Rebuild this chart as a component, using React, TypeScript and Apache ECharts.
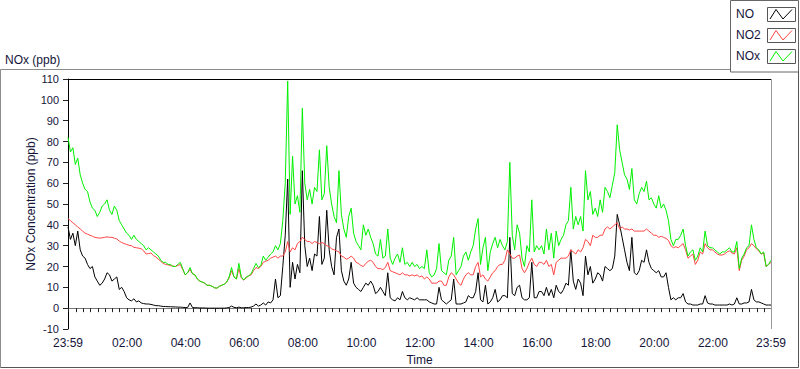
import React, { useEffect, useRef } from "react";
import * as echarts from "echarts";

// Samples every 5 minutes, starting at 23:59 (minute 0) and ending at 23:59 (minute 1440)
const stepMinutes = 5;

const noxValues = [
  82, 75, 77, 69, 72, 64, 60, 57, 56, 51, 48, 47, 44, 46, 49, 50, 52, 47, 45, 49, 47, 42, 40, 38, 36,
  35, 33, 35, 33, 32, 31, 30, 28, 29, 28, 27, 26, 25, 23, 22, 22, 21, 21, 20, 20, 21, 22, 19, 16,
  17, 19.5, 16.5, 16, 14, 13, 12.5, 12, 11, 11, 10.5, 9.8, 9.6, 10.5, 11, 11.5, 12.5, 15, 19.5, 15,
  14, 21.5, 15, 13.5, 15, 15.5, 16.5, 19, 21.5, 19.5, 20.5, 25, 23, 24.5, 26, 27, 30, 28, 31, 42,
  60, 109, 45, 73, 50, 54, 46, 96,
  60, 52, 57, 50, 58, 56, 76, 52, 55, 78, 58, 50, 44, 41, 66, 45, 38, 34, 44, 48, 36, 32, 30, 28, 40,
  35, 38, 34, 31, 26, 25, 33, 24, 25, 38, 24, 21, 24, 26, 22, 29, 21, 22, 20, 22, 20, 21, 19, 20,
  19, 28, 17, 15, 16, 19, 31, 18, 17, 16, 23, 25, 34, 16, 18, 20, 25, 27, 23, 27, 30, 38, 43, 21, 29,
  34, 18, 27, 31, 34, 29, 33, 30, 28, 32, 70, 35, 28, 40, 36, 24, 20, 30, 27, 52, 27, 30, 28,
  30, 26, 38, 28, 36, 24, 37, 30, 33, 35, 40, 42, 58, 38, 44, 40, 44, 37, 66, 52, 56, 45, 48, 44, 52,
  46, 58, 56, 53, 59, 65, 88, 76, 70, 64, 62, 57, 67, 52, 50, 55, 58, 56, 61, 52, 53, 50, 48,
  54, 48, 50, 47, 42, 33, 30, 33, 33, 35, 38, 30, 25, 27, 28, 23, 25, 29, 27, 37, 30, 29, 29, 28, 27,
  26, 27, 27, 28, 29, 27, 27, 32, 19, 24, 26, 29, 30, 40, 33, 29, 28, 26, 27, 20, 21, 23,
];

const no2Values = [
  43, 42, 41, 40, 39, 38, 37, 36, 35.5, 35, 34.5, 34, 33.8, 33.6, 33.8, 34, 34.2, 34, 34, 33.6, 33.2,
  32.2, 31.5, 31, 30.6, 30.2, 30, 29.2, 29, 28.8, 28.5, 27.5, 26, 26.2, 26.5, 25.2, 24.6, 23.5, 22.5,
  21.5, 21, 20.8, 20.4, 20.2, 20, 20.5, 21, 18.5, 16,
  17, 18.5, 16.5, 16, 14, 13, 12.5, 12, 11, 11, 10.5, 9.8, 9.6, 10.5, 11, 11.5, 12.5, 14.5, 18, 15,
  14, 19, 14.5, 13.5, 14.5, 15.5, 16, 18, 19.5, 19, 20, 22, 22.5, 23, 24, 24.5, 25, 24, 25, 25,
  27, 32, 27, 29, 28, 31, 32, 34,
  33, 32, 32, 31, 32, 31.5, 31, 31.5, 31, 30, 29.5, 28.5, 28, 27.5, 27, 25, 24.5, 23.5, 24, 25, 24,
  22, 21.5, 20.5, 20, 21.5, 22.5, 23, 22, 20, 19, 19, 18.5, 19.5, 22, 18, 17.5, 17, 16.5, 16, 17,
  16, 16, 15.5, 16, 15.5, 16, 15, 15.5,
  14, 15, 14, 12, 12, 12, 13, 13, 11, 11, 15, 17, 16, 14, 12, 11, 14, 16, 17, 16, 16, 20, 22, 15, 16,
  14, 13, 15, 17, 18, 20, 21, 21, 23, 28, 26, 24, 24, 25, 25.5, 19, 17, 19, 22, 24, 21, 20, 22,
  22, 21, 23, 20, 21, 16, 22, 23, 24, 24, 24, 25, 28, 27, 26, 28, 27, 29, 33, 32, 30, 35, 34, 34, 35,
  35, 38, 39, 38, 39, 40, 41, 38, 39, 38, 38, 37.5, 38, 37, 37, 37, 37, 37, 38, 37, 36, 35, 35,
  34, 34.5, 34, 33.5, 32.5, 30, 29, 29.5, 29, 30, 31, 28, 24, 25, 26, 21, 23, 27, 26, 31, 29, 28,
  28, 27, 26, 25.5, 25.5, 26, 27, 27.5, 26.5, 26, 29, 18, 23, 25, 28, 29, 31, 30, 28.5, 27.5, 26,
  26.5, 20, 21, 22,
];

const noValues = [
  39, 33, 36, 30, 37, 28, 25, 24, 21, 19, 20, 15, 13, 11, 12, 14, 17, 16, 13, 14, 15, 9, 10, 8, 5,
  4, 3.5, 4.5, 3, 3.5, 2.5, 2.2, 2, 2, 1.8, 1.5, 1.2, 1.2, 1, 0.8, 0.8, 0.7, 0.7, 0.6, 0.6, 0.5, 0.5,
  0.4, 0.3,
  0.3, 2.5, 0.3, 0.2, 0.2, 0.1, 0.1, 0.1, 0, 0, 0, 0, 0, 0, 0, 0, 0.1, 0.3, 1, 0.4, 0.2, 0.5, 0.2,
  0.2, 0.3, 0.3, 0.5, 1, 2, 1, 1.5, 2.5, 1.5, 3, 2.5, 4, 14, 5, 6, 20, 35, 62, 10, 22, 14, 21, 17, 66,
  30, 20, 24, 18, 26, 25, 44, 21, 24, 47, 28, 20, 16, 34, 38, 18, 13, 11, 14, 22, 12, 10, 9, 8, 10,
  12, 11, 13, 11, 7, 8, 10, 8, 6, 17, 5, 4, 3.5, 5, 4, 8, 5, 4, 5, 4.5, 4, 5, 4, 4,
  4, 4, 3, 2.5, 2, 2, 10, 4, 3, 2, 3, 4, 14, 2, 2, 2, 2.5, 3, 6, 5, 5, 8, 17, 4, 3, 11, 2, 3, 5, 9,
  3, 4, 6, 6, 5, 34, 7, 6, 10, 11, 5, 4, 4, 5, 22, 5, 5, 8,
  8, 6, 10, 6, 9, 5, 11, 8, 7, 9, 12, 11, 28, 13, 9, 14, 12, 6, 25, 16, 20, 12, 14, 17, 16, 13, 20,
  19, 18, 19, 25, 45, 40, 34, 28, 22, 18, 34, 17, 16, 18, 23, 22, 28, 22, 19, 18, 17,
  18, 15, 15, 17, 10, 4, 5, 4, 5, 5, 7, 3, 2, 2, 1.5, 1.5, 1.5, 2, 2, 6, 2.5, 2, 2, 1.5, 1.5, 1.5,
  1.5, 1.5, 1.5, 2, 1.5, 2, 5, 2, 2, 2.5, 2.5, 3, 9, 4, 3, 3, 2.5, 2, 1.5, 1.5, 1.5,
];

const seriesNames = ["NO", "NO2", "NOx"];
const seriesColors = ["#000000", "#ff4444", "#00f000"];

const xLabelMinutes = [0, 121, 241, 361, 481, 601, 721, 841, 961, 1081, 1201, 1321, 1440];
const xLabels = ["23:59", "02:00", "04:00", "06:00", "08:00", "10:00", "12:00", "14:00", "16:00", "18:00", "20:00", "22:00", "23:59"];

const yMin = -10;
const yMax = 110;
const yStep = 10;

const FONT = "Tahoma, 'Liberation Sans', Arial, sans-serif";
const TEXT = "#15153a";

function toPairs(vals: number[]) {
  return vals.map((v, i) => [i * stepMinutes, v]);
}

export default function App() {
  const ref = useRef<HTMLDivElement>(null);

  useEffect(() => {
    document.body.style.margin = "0";
    if (!ref.current) return;
    const chart = echarts.init(ref.current, undefined, { renderer: "svg" });

    const minorTicks: number[] = [0];
    for (let m = 16; m < 1440; m += 15) minorTicks.push(m);
    minorTicks.push(1440);

    const dataByName: Record<string, number[]> = { NO: noValues, NO2: no2Values, NOx: noxValues };

    const legendRows = seriesNames.map((name, i) => {
      const c = 14 + i * 21;
      return [
        {
          type: "text",
          style: { text: name, x: 736, y: c, fill: TEXT, font: `12px ${FONT}`, verticalAlign: "middle" },
        },
        { type: "rect", shape: { x: 767.5, y: c - 6.5, width: 28, height: 14 }, style: { fill: "#fff", stroke: "#555", lineWidth: 1 } },
        {
          type: "polyline",
          shape: { points: [[770, c + 5], [776, c - 4.5], [783, c + 5], [792, c - 4.5]] },
          style: { stroke: seriesColors[i], lineWidth: 1, fill: null },
        },
      ];
    }).flat();

    chart.setOption({
      animation: false,
      backgroundColor: "#ffffff",
      grid: { left: 68, top: 79, width: 703, height: 250, show: false, containLabel: false, outerBoundsMode: "none" },
      xAxis: {
        type: "value",
        min: 0,
        max: 1440,
        name: "Time",
        nameLocation: "middle",
        nameGap: 25,
        nameMoveOverlap: false,
        nameTextStyle: { color: TEXT, fontFamily: FONT, fontSize: 12 },
        axisLine: { show: true, lineStyle: { color: "#777", width: 1 } },
        axisTick: { show: true, length: 4, customValues: minorTicks, lineStyle: { color: "#222" } },
        axisLabel: {
          customValues: xLabelMinutes,
          formatter: (v: number) => {
            const idx = xLabelMinutes.indexOf(Math.round(v));
            return idx >= 0 ? xLabels[idx] : "";
          },
          color: TEXT,
          fontFamily: FONT,
          fontSize: 12,
          margin: 8,
          hideOverlap: false,
          showMinLabel: true,
          showMaxLabel: true,
        },
        splitLine: { show: false },
      },
      yAxis: {
        type: "value",
        min: yMin,
        max: yMax,
        interval: yStep,
        name: "NOx Concentration (ppb)",
        nameLocation: "middle",
        nameGap: 31,
        nameRotate: 90,
        nameMoveOverlap: false,
        nameTextStyle: { color: TEXT, fontFamily: FONT, fontSize: 12 },
        axisLine: { show: true, lineStyle: { color: "#000", width: 1 } },
        axisTick: { show: true, length: 5, lineStyle: { color: "#222" } },
        axisLabel: { color: TEXT, fontFamily: FONT, fontSize: 11, margin: 9 },
        splitLine: { show: false },
      },
      series: ["NOx", "NO2", "NO"].map((name) => {
        const idx = seriesNames.indexOf(name);
        return {
          name,
          type: "line",
          data: toPairs(dataByName[name]),
          showSymbol: false,
          symbol: "none",
          lineStyle: { color: seriesColors[idx], width: 1 },
          itemStyle: { color: seriesColors[idx] },
          z: 2 + idx,
        };
      }),
      graphic: [
        { type: "polyline", shape: { points: [[731, 69.5], [0.5, 69.5], [0.5, 367.5]] }, style: { stroke: "#8c8c8c", fill: null, lineWidth: 1 }, z: 0 },
        { type: "polyline", shape: { points: [[0.5, 367.5], [798.5, 367.5], [798.5, 72]] }, style: { stroke: "#555", fill: null, lineWidth: 1 }, z: 0 },
        { type: "line", shape: { x1: 68, y1: 79.5, x2: 772, y2: 79.5 }, style: { stroke: "#000", lineWidth: 1 }, z: 10 },
        { type: "line", shape: { x1: 771.5, y1: 79, x2: 771.5, y2: 329 }, style: { stroke: "#999", lineWidth: 1 }, z: 10 },
        { type: "text", style: { text: "NOx (ppb)", x: 5, y: 60, fill: TEXT, font: `12px ${FONT}`, verticalAlign: "middle" } },
        { type: "rect", shape: { x: 730.5, y: 0.5, width: 68, height: 71.5 }, style: { fill: "#fff", stroke: "#666", lineWidth: 1 }, z: 5 },
        ...legendRows.map((g: any) => ({ ...g, z: 6 })),
      ],
    });

    return () => chart.dispose();
  }, []);

  return <div ref={ref} style={{ width: 800, height: 369 }} />;
}
